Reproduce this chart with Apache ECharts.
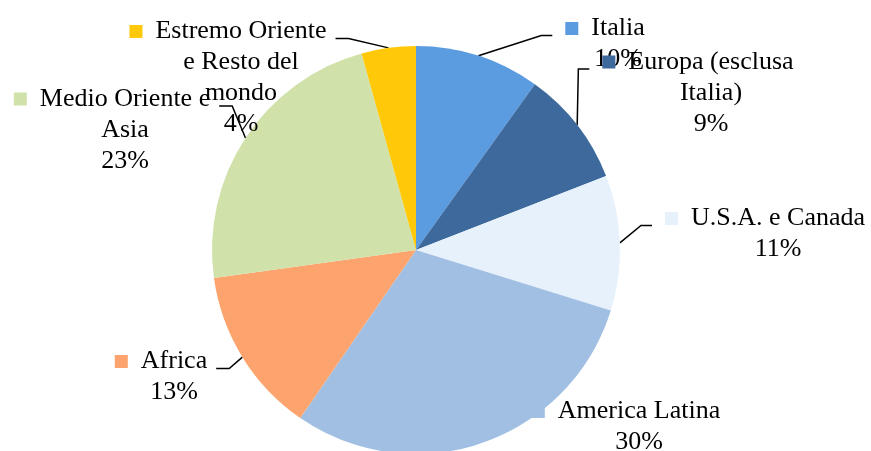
<!DOCTYPE html>
<html>
<head>
<meta charset="utf-8">
<script src="https://cdn.jsdelivr.net/npm/echarts@6/dist/echarts.min.js"></script>
<style>html,body{margin:0;padding:0;background:#fff}#c{width:871px;height:451px}</style>
</head>
<body>
<div id="c"></div>
<script>
// Data
const categories = ['Italia', 'Europa (esclusa Italia)', 'U.S.A. e Canada', 'America Latina', 'Africa', 'Medio Oriente e Asia', 'Estremo Oriente e Resto del mondo'];
const labelLines = [
  ['Italia'],
  ['Europa (esclusa', 'Italia)'],
  ['U.S.A. e Canada'],
  ['America Latina'],
  ['Africa'],
  ['Medio Oriente e', 'Asia'],
  ['Estremo Oriente', 'e Resto del', 'mondo']
];
const values = [9.9, 9.2, 10.7, 29.8, 13.2, 22.9, 4.3];
const colors = ['#5B9BE0', '#3D699D', '#E7F1FB', '#A0BFE3', '#FDA46E', '#D0E2A9', '#FFC90A'];
// label text-centre positions and leader side (layout, not data)
const labelPos = [[618, 44], [711, 93], [778, 234], [639, 427], [174, 377], [125, 130], [241, 78]];
const leaderSide = ['R', 'R', 'R', null, 'L', 'L', 'L'];

const FONT = "'Liberation Serif', 'Times New Roman', serif";
const MARK = 13, SPACER = 26;
const rich = {
  t: {fontFamily: FONT, fontSize: 26, color: '#000', lineHeight: 31},
  s: {width: SPACER, height: 13}
};
colors.forEach((c, i) => { rich['m' + i] = {width: MARK, height: MARK, backgroundColor: c}; });

const chart = echarts.init(document.getElementById('c'), null, {renderer: 'canvas'});
const data = categories.map((name, i) => ({
  name: name,
  value: values[i],
  itemStyle: {color: colors[i]},
  labelLine: {show: leaderSide[i] !== null}
}));

chart.setOption({
  animation: false,
  backgroundColor: '#fff',
  series: [{
    type: 'pie',
    center: [416, 250],
    radius: 204,
    startAngle: 90,
    clockwise: true,
    avoidLabelOverlap: false,
    data: data,
    label: {
      show: true,
      position: 'outside',
      fontFamily: FONT,
      fontSize: 26,
      lineHeight: 31,
      color: '#000',
      align: 'center',
      overflow: 'none',
      rich: rich,
      formatter: function (p) {
        const lines = labelLines[p.dataIndex];
        let s = '{m' + p.dataIndex + '|}{t|  ' + lines[0] + '}{s|}';
        for (let k = 1; k < lines.length; k++) s += '\n{t|' + lines[k] + '}';
        s += '\n{t|' + Math.round(p.percent) + '%}';
        return s;
      }
    },
    labelLine: {
      show: true,
      lineStyle: {color: '#000', width: 1.5}
    },
    labelLayout: function (params) {
      const i = params.dataIndex;
      const pos = labelPos[i];
      const w = params.labelRect.width, h = params.labelRect.height;
      const out = {x: pos[0], y: pos[1], align: 'center', verticalAlign: 'middle'};
      const side = leaderSide[i];
      if (side && params.labelLinePoints) {
        const edge = params.labelLinePoints[0];
        const ly = pos[1] - h / 2 + 15.5 + 7;
        let endX, turnX;
        if (side === 'R') {
          endX = pos[0] - w / 2 - 13;
          turnX = Math.max(endX - 11, Math.min(edge[0], endX - 11) );
          turnX = (edge[0] > endX - 11) ? edge[0] : endX - 11;
          if (edge[0] < endX - 11) turnX = endX - 11;
        } else {
          endX = pos[0] + w / 2 - SPACER + 9;
          turnX = endX + 13;
        }
        out.labelLinePoints = [[edge[0], edge[1]], [turnX, ly], [endX, ly]];
      }
      return out;
    }
  }]
});
</script>
</body>
</html>
